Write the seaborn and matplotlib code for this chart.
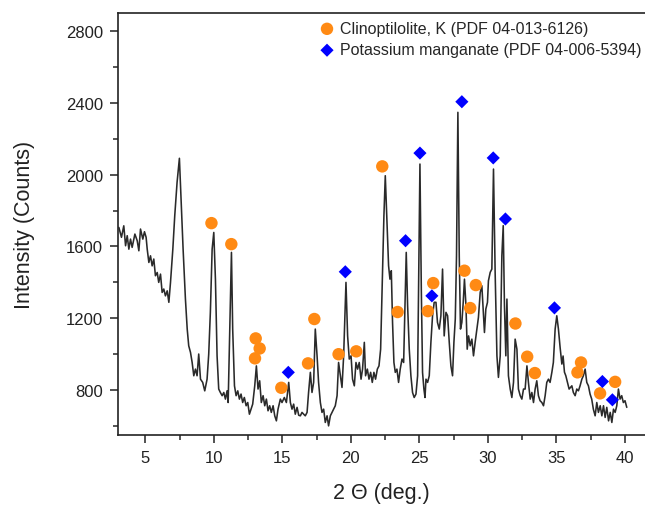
import numpy as np
import matplotlib
matplotlib.use('Agg')
import matplotlib.pyplot as plt
import seaborn as sns
from matplotlib.ticker import MultipleLocator

# XRD-Muster
two_theta = [3.06, 3.25, 3.42, 3.55, 3.67, 3.79, 3.91, 4.03, 4.23, 4.40, 4.52, 4.64, 4.81, 4.93, 5.05, 5.13,
             5.25, 5.37, 5.49, 5.61, 5.73, 5.86, 5.97, 6.10, 6.22, 6.34, 6.46, 6.59, 6.71, 6.83, 7.00, 7.14,
             7.31, 7.48, 7.60, 7.75, 7.92, 8.05, 8.16, 8.29, 8.41, 8.53, 8.65, 8.77, 8.89, 9.02, 9.18, 9.33,
             9.50, 9.62, 9.74, 9.87, 9.99, 10.11, 10.23, 10.35, 10.47, 10.60, 10.72, 10.84, 10.96, 11.04,
             11.13, 11.28, 11.37, 11.50, 11.62, 11.74, 11.86, 11.98, 12.10, 12.22, 12.35, 12.47, 12.59,
             12.71, 12.83, 12.98, 13.10, 13.22, 13.34, 13.46, 13.59, 13.71, 13.83, 13.95, 14.07, 14.19,
             14.32, 14.44, 14.56, 14.68, 14.85, 14.97, 15.14, 15.29, 15.46, 15.58, 15.70, 15.82, 15.94,
             16.07, 16.19, 16.31, 16.43, 16.55, 16.67, 16.80, 16.91, 17.04, 17.16, 17.28, 17.40, 17.53,
             17.64, 17.77, 17.89, 18.01, 18.13, 18.26, 18.37, 18.50, 18.62, 18.74, 18.86, 18.99, 19.10,
             19.23, 19.35, 19.47, 19.64, 19.76, 19.88, 20.01, 20.12, 20.25, 20.37, 20.49, 20.61, 20.74,
             20.85, 20.98, 21.07, 21.20, 21.32, 21.44, 21.56, 21.68, 21.80, 21.93, 22.05, 22.17, 22.29,
             22.41, 22.51, 22.63, 22.75, 22.85, 22.95, 23.04, 23.14, 23.24, 23.36, 23.48, 23.60, 23.73,
             23.85, 23.92, 24.04, 24.14, 24.26, 24.38, 24.50, 24.62, 24.75, 24.87, 24.94, 25.04, 25.14,
             25.23, 25.33, 25.41, 25.48, 25.60, 25.72, 25.84, 25.96, 26.08, 26.21, 26.32, 26.45, 26.57,
             26.69, 26.81, 26.94, 27.06, 27.18, 27.30, 27.42, 27.52, 27.62, 27.71, 27.81, 27.91, 28.00,
             28.10, 28.20, 28.29, 28.40, 28.49, 28.59, 28.71, 28.83, 28.95, 29.07, 29.20, 29.31, 29.44,
             29.56, 29.68, 29.75, 29.85, 29.97, 30.04, 30.17, 30.29, 30.41, 30.53, 30.66, 30.77, 30.90,
             31.02, 31.12, 31.21, 31.31, 31.39, 31.50, 31.63, 31.75, 31.87, 31.99, 32.12, 32.23, 32.36,
             32.48, 32.60, 32.72, 32.85, 32.96, 33.09, 33.21, 33.33, 33.45, 33.57, 33.69, 33.81, 33.94,
             34.06, 34.18, 34.30, 34.42, 34.54, 34.67, 34.78, 34.91, 35.03, 35.15, 35.27, 35.40, 35.49,
             35.59, 35.69, 35.81, 35.93, 36.13, 36.24, 36.37, 36.49, 36.61, 36.73, 36.86, 36.97, 37.10,
             37.22, 37.34, 37.46, 37.58, 37.70, 37.83, 37.95, 38.07, 38.20, 38.32, 38.44, 38.56, 38.68,
             38.81, 38.93, 39.05, 39.17, 39.29, 39.41, 39.53, 39.65, 39.77, 39.89, 40.01, 40.14]
counts = [1706, 1651, 1715, 1604, 1660, 1585, 1641, 1595, 1669, 1632, 1576, 1697, 1641, 1682, 1651, 1585,
          1511, 1548, 1492, 1530, 1437, 1455, 1400, 1446, 1344, 1363, 1325, 1353, 1289, 1400, 1585, 1771,
          1957, 2091, 1864, 1585, 1307, 1140, 1047, 1010, 954, 880, 917, 880, 1001, 861, 843, 796,
          861, 1000, 1233, 1585, 1678, 1418, 991, 806, 787, 769, 787, 750, 796, 731,
          1047, 1567, 1140, 824, 769, 796, 750, 778, 731, 759, 713, 731, 666,
          694, 722, 824, 935, 806, 852, 731, 769, 713, 750, 685, 713, 676,
          713, 657, 629, 694, 750, 731, 759, 731, 843, 731, 694, 722, 666,
          704, 660, 657, 676, 666, 657, 676, 787, 899, 787, 843, 1140, 991,
          843, 731, 676, 694, 620, 657, 601, 657, 676, 694, 713, 769, 954,
          880, 815, 991, 1400, 1102, 973, 991, 861, 824, 954, 917, 954, 861,
          917, 1066, 880, 917, 861, 899, 843, 899, 861, 917, 935, 1028, 1400,
          1771, 1994, 1750, 1493, 1418, 1465, 1177, 954, 899, 917, 843, 917, 973,
          954, 1177, 1567, 1270, 1028, 880, 787, 759, 778, 880, 1363, 2059, 1363,
          899, 806, 759, 861, 843, 880, 1066, 1214, 1289, 1289, 1177, 1140, 1214,
          1474, 1102, 1233, 1214, 1066, 935, 880, 1066, 1196, 1548, 2347, 1548, 1140,
          1177, 1289, 1418, 1270, 1028, 1102, 1047, 1084, 991, 1066, 1140, 1205, 1344,
          1381, 1214, 1121, 1251, 1289, 1409, 1456, 1474, 2031, 1456, 991, 871, 991,
          1548, 1716, 1270, 991, 1307, 880, 806, 759, 843, 1084, 1028, 806, 769,
          750, 806, 806, 935, 843, 750, 787, 731, 806, 852, 769, 741, 731,
          713, 769, 843, 861, 843, 899, 954, 1140, 1214, 1140, 1040, 945, 990,
          900, 880, 843, 806, 824, 787, 769, 806, 796, 824, 861, 880, 917,
          843, 824, 778, 750, 694, 657, 731, 676, 713, 657, 713, 648, 704,
          629, 676, 620, 694, 676, 713, 806, 750, 769, 731, 741, 704]

# Referenzmarker
clino_x = [9.82, 11.27, 13.05, 13.34, 13.00, 14.92, 16.87, 17.33, 19.10, 20.39, 22.29, 23.41,
           25.62, 26.01, 28.29, 28.71, 29.12, 32.01, 32.87, 33.43, 36.54, 36.80, 38.19, 39.29]
clino_y = [1730, 1613, 1088, 1032, 977, 813, 949, 1196, 1000, 1016, 2046, 1235,
           1240, 1396, 1465, 1257, 1385, 1171, 986, 895, 899, 954, 782, 846]
kmn_x = [15.43, 19.59, 23.99, 25.04, 25.91, 28.10, 30.39, 31.28, 34.86, 38.36, 39.09]
kmn_y = [899, 1459, 1632, 2120, 1325, 2406, 2093, 1753, 1258, 848, 746]

sns.set_style('ticks')
plt.rcParams['font.family'] = ['Liberation Sans', 'DejaVu Sans']

fig = plt.figure(figsize=(6.45, 5.06), dpi=100)
ax = fig.add_axes([0.183, 0.1383, 0.817, 0.834])

sns.lineplot(x=two_theta, y=counts, color='#2a2a2a', linewidth=1.15, estimator=None, sort=False, ax=ax)
sns.scatterplot(x=clino_x, y=clino_y, marker='o', s=80, color='#FF8A14', edgecolor='none',
                label='Clinoptilolite, K (PDF 04-013-6126)', ax=ax, zorder=3)
sns.scatterplot(x=kmn_x, y=kmn_y, marker='D', s=45, color='#0000FF', edgecolor='none',
                label='Potassium manganate (PDF 04-006-5394)', ax=ax, zorder=3)

ax.set_xlim(3, 41.47)
ax.set_ylim(550, 2900)
ax.xaxis.set_major_locator(MultipleLocator(5))
ax.xaxis.set_minor_locator(MultipleLocator(2.5))
ax.yaxis.set_major_locator(MultipleLocator(400))
ax.yaxis.set_minor_locator(MultipleLocator(200))
ax.tick_params(which='major', direction='out', length=6, width=1.1, labelsize=12, colors='#222222', pad=5)
ax.tick_params(which='minor', direction='out', length=3.5, width=1.1)
ax.spines['right'].set_visible(False)
for s in ['left', 'bottom', 'top']:
    ax.spines[s].set_linewidth(1.2)
    ax.spines[s].set_color('#222222')

ax.set_xlabel('2 Θ (deg.)', fontsize=15.5, color='#222222', labelpad=12)
ax.set_ylabel('Intensity (Counts)', fontsize=15.5, color='#222222', labelpad=22)

ax.legend(loc='upper left', bbox_to_anchor=(0.4946, 0.9565), bbox_transform=fig.transFigure,
          frameon=False, fontsize=11.5, handlelength=1.0, handletextpad=0.3, borderpad=0,
          labelspacing=0.4, borderaxespad=0)

fig.savefig('out.png', dpi=100)
